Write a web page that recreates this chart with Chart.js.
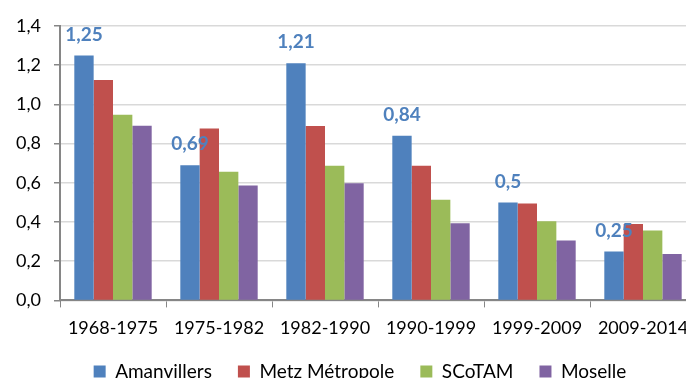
<!DOCTYPE html>
<html>
<head>
<meta charset="utf-8">
<script src="https://cdn.jsdelivr.net/npm/chart.js@4"></script>
<style>
  html, body { margin: 0; padding: 0; background: #fff; overflow: hidden; }
  #wrap { width: 696px; height: 379px; }
</style>
</head>
<body>
<div id="wrap"><canvas id="chart" width="696" height="379"></canvas></div>
<script>
// periods
const periods = ['1968-1975', '1975-1982', '1982-1990', '1990-1999', '1999-2009', '2009-2014'];

// annual growth rate per area
const amanvillers = [1.25, 0.69, 1.21, 0.84, 0.5, 0.25];
const metzMetropole = [1.125, 0.877, 0.89, 0.687, 0.495, 0.39];
const scotam = [0.947, 0.657, 0.687, 0.514, 0.404, 0.356];
const moselle = [0.891, 0.586, 0.598, 0.394, 0.305, 0.237];

const yTicks = [0, 0.2, 0.4, 0.6, 0.8, 1.0, 1.2, 1.4];

const fr = v => String(v).replace('.', ',');

// value labels above the Amanvillers bars only
const barLabels = {
    id: 'barLabels',
    afterDatasetsDraw(chart) {
        const ctx = chart.ctx;
        const meta = chart.getDatasetMeta(0);
        ctx.save();
        ctx.font = 'bold 19px Lato';
        ctx.fillStyle = '#4F81BD';
        ctx.textAlign = 'center';
        ctx.textBaseline = 'middle';
        meta.data.forEach((bar, i) => {
            ctx.fillText(fr(amanvillers[i]), bar.x, bar.y - 21);
        });
        ctx.restore();
    }
};

// shrink the legend box and pull it up towards the x labels
const tightLegend = {
    id: 'tightLegend',
    beforeInit(chart) {
        const fit = chart.legend.fit;
        chart.legend.fit = function () {
            fit.call(this);
            this.height -= 25;
        };
    },
    afterLayout(chart) {
        const lg = chart.legend;
        lg.top -= 13;
        lg.bottom = chart.height;
        lg.height = lg.bottom - lg.top;
        lg.left += 12;
        lg.right += 12;
    }
};

const ctx = document.getElementById('chart').getContext('2d');
new Chart(ctx, {
    type: 'bar',
    data: {
        labels: periods,
        datasets: [
            { label: 'Amanvillers', data: amanvillers, backgroundColor: '#4F81BD' },
            { label: 'Metz Métropole', data: metzMetropole, backgroundColor: '#C0504D' },
            { label: 'SCoTAM', data: scotam, backgroundColor: '#9BBB59' },
            { label: 'Moselle', data: moselle, backgroundColor: '#8064A2' }
        ]
    },
    options: {
        responsive: false,
        animation: false,
        datasets: {
            bar: { categoryPercentage: 0.73, barPercentage: 1.0, borderWidth: 0 }
        },
        layout: { padding: { left: 0, right: 0, top: 26, bottom: 0 } },
        plugins: {
            tooltip: { enabled: false },
            legend: {
                position: 'bottom',
                labels: {
                    font: { family: 'Lato', size: 19 },
                    color: '#000',
                    boxWidth: 12,
                    boxHeight: 12,
                    padding: 26
                }
            }
        },
        scales: {
            x: {
                afterFit(scale) { scale.paddingLeft = 0; scale.paddingRight = 0; },
                grid: { offset: true, drawOnChartArea: false, tickLength: 7, color: '#868686' },
                border: { color: '#868686', width: 2 },
                ticks: { font: { family: 'Lato', size: 18 }, color: '#000', padding: 10, maxRotation: 0 }
            },
            y: {
                min: 0,
                max: 1.4,
                afterBuildTicks(axis) { axis.ticks = yTicks.map(v => ({ value: v })); },
                afterFit(scale) { scale.width = 60; },
                grid: { color: '#D9D9D9', lineWidth: 1.5, tickLength: 6, tickColor: '#868686' },
                border: { color: '#868686', width: 2 },
                ticks: {
                    font: { family: 'Lato', size: 18 },
                    color: '#000',
                    padding: 13,
                    callback: v => v.toFixed(1).replace('.', ',')
                }
            }
        }
    },
    plugins: [barLabels, tightLegend]
});
</script>
</body>
</html>
